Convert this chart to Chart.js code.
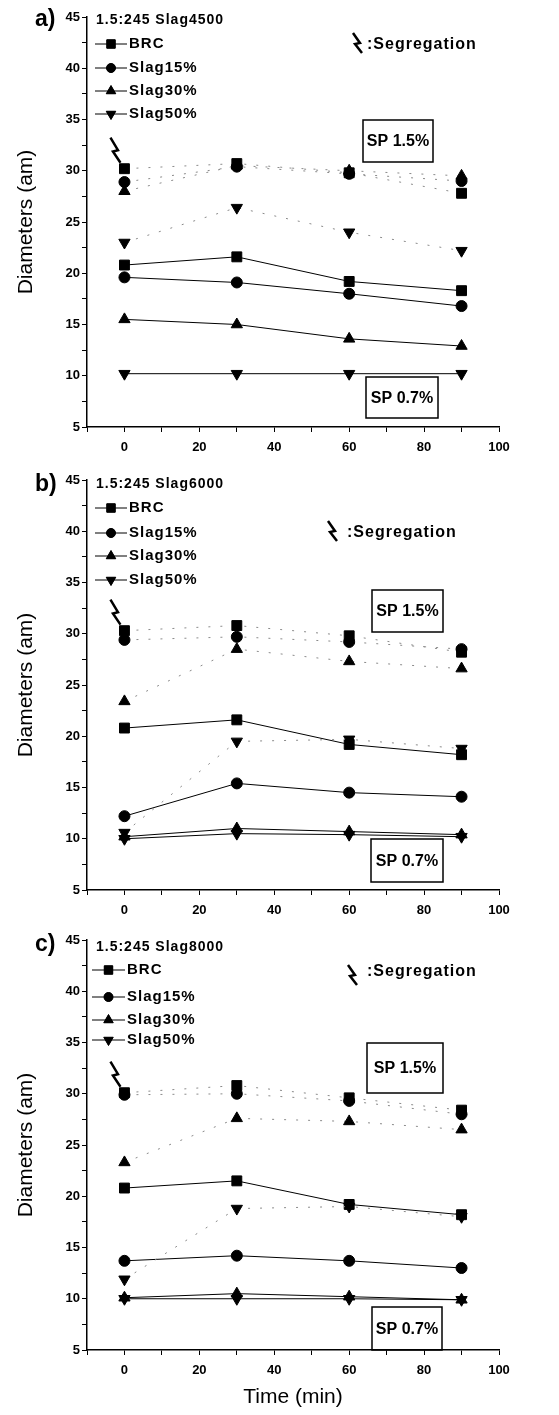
<!DOCTYPE html>
<html>
<head>
<meta charset="utf-8">
<script src="https://cdn.jsdelivr.net/npm/chart.js@4/dist/chart.umd.min.js"></script>
<style>
  body { margin: 0; background: #fff; }
  canvas.panel { position: absolute; left: 0; }
</style>
</head>
<body>
<canvas id="panelA" class="panel" width="559" height="463" style="top:0px"></canvas>
<canvas id="panelB" class="panel" width="559" height="460" style="top:463px"></canvas>
<canvas id="panelC" class="panel" width="559" height="492" style="top:923px"></canvas>
<script>
// temps de mesure (min)
const times = [0, 30, 60, 90];
const seriesNames = ['BRC', 'Slag15%', 'Slag30%', 'Slag50%'];

// a) 1.5:245 Slag4500 -- SP 0.7% (traits pleins)
const a07BRC = [20.8, 21.6, 19.2, 18.3];
const a07S15 = [19.6, 19.1, 18.0, 16.8];
const a07S30 = [15.5, 15.0, 13.6, 12.9];
const a07S50 = [10.2, 10.2, 10.2, 10.2];
// a) SP 1.5% (pointillés)
const a15BRC = [30.2, 30.7, 29.8, 27.8];
const a15S15 = [28.9, 30.4, 29.7, 29.0];
const a15S30 = [28.0, 30.5, 30.0, 29.5];
const a15S50 = [23.0, 26.4, 24.0, 22.2];

// b) 1.5:245 Slag6000
const b07BRC = [20.8, 21.6, 19.2, 18.2];
const b07S15 = [12.2, 15.4, 14.5, 14.1];
const b07S30 = [10.2, 11.0, 10.7, 10.4];
const b07S50 = [10.0, 10.5, 10.4, 10.2];
const b15BRC = [30.3, 30.8, 29.8, 28.2];
const b15S15 = [29.4, 29.7, 29.2, 28.5];
const b15S30 = [23.4, 28.5, 27.3, 26.6];
const b15S50 = [10.6, 19.5, 19.7, 18.8];

// c) 1.5:245 Slag8000
const c07BRC = [20.8, 21.5, 19.2, 18.2];
const c07S15 = [13.7, 14.2, 13.7, 13.0];
const c07S30 = [10.1, 10.5, 10.2, 9.9];
const c07S50 = [10.0, 10.0, 10.0, 9.9];
const c15BRC = [30.1, 30.8, 29.6, 28.4];
const c15S15 = [29.9, 30.0, 29.3, 28.0];
const c15S30 = [23.3, 27.6, 27.3, 26.5];
const c15S50 = [11.9, 18.8, 19.0, 18.0];

const FONT = "'Liberation Sans', Arial, sans-serif";
// style des marqueurs : carré, rond, triangle, triangle inversé
const MARKERS = [
    { style: 'rect', radius: 7, rotation: 0 },
    { style: 'circle', radius: 5.5, rotation: 0 },
    { style: 'triangle', radius: 6.5, rotation: 0 },
    { style: 'triangle', radius: 6.5, rotation: 180 }
];

function makeDatasets(sp07, sp15) {
    const sets = [];
    sp15.forEach((vals, i) => {
        sets.push({
            label: seriesNames[i] + ' SP1.5',
            data: times.map((t, k) => ({ x: t, y: vals[k] })),
            borderColor: '#8a8a8a', borderWidth: 1, borderDash: [2, 10],
            pointStyle: MARKERS[i].style, pointRadius: MARKERS[i].radius,
            pointRotation: MARKERS[i].rotation,
            pointBackgroundColor: '#000', pointBorderColor: '#000', pointBorderWidth: 1
        });
    });
    sp07.forEach((vals, i) => {
        sets.push({
            label: seriesNames[i] + ' SP0.7',
            data: times.map((t, k) => ({ x: t, y: vals[k] })),
            borderColor: '#000', borderWidth: 1,
            pointStyle: MARKERS[i].style, pointRadius: MARKERS[i].radius,
            pointRotation: MARKERS[i].rotation,
            pointBackgroundColor: '#000', pointBorderColor: '#000', pointBorderWidth: 1
        });
    });
    return sets;
}

function drawBolt(ctx, x0, y0, x1, y1) {
    const dx = x1 - x0, dy = y1 - y0;
    ctx.save();
    ctx.strokeStyle = '#000';
    ctx.lineWidth = 2.5;
    ctx.lineJoin = 'miter';
    ctx.beginPath();
    ctx.moveTo(x0, y0);
    ctx.lineTo(x0 + dx * 0.55 + 2, y0 + dy * 0.5);
    ctx.lineTo(x0 + dx * 0.45 - 2, y0 + dy * 0.55);
    ctx.lineTo(x1, y1);
    ctx.stroke();
    ctx.restore();
}

// annotations dessinées par-dessus le graphique
function annotationPlugin(cfg) {
    return {
        id: 'annot',
        afterDraw(chart) {
            const ctx = chart.ctx;
            ctx.save();
            ctx.fillStyle = '#000';
            ctx.textBaseline = 'middle';

            // étiquette du panneau
            ctx.font = 'bold 23px ' + FONT;
            ctx.fillText(cfg.tag, 35, cfg.tagY);

            // légende
            ctx.letterSpacing = '1px';
            ctx.font = 'bold 14px ' + FONT;
            ctx.fillText(cfg.title, 96, cfg.legendY[0]);
            ctx.font = 'bold 15px ' + FONT;
            seriesNames.forEach((name, i) => {
                const y = cfg.legendY[i + 1];
                ctx.strokeStyle = '#000';
                ctx.lineWidth = 1;
                ctx.beginPath();
                ctx.moveTo(cfg.symX[0], y);
                ctx.lineTo(cfg.symX[1], y);
                ctx.stroke();
                const m = MARKERS[i];
                Chart.helpers.drawPoint(ctx, {
                    pointStyle: m.style, radius: m.radius - 1, rotation: m.rotation, borderWidth: 1
                }, (cfg.symX[0] + cfg.symX[1]) / 2, y);
                ctx.fill();
                ctx.fillText(name, cfg.symX[1] + 2, y);
            });

            // ségrégation
            drawBolt(ctx, cfg.seg.bx, cfg.seg.by, cfg.seg.bx + 9, cfg.seg.by + 20);
            ctx.font = 'bold 16px ' + FONT;
            ctx.fillText(cfg.seg.text, cfg.seg.tx, cfg.seg.ty);

            // éclair au point t = 0
            const px = chart.scales.x.getPixelForValue(times[0]);
            const py = chart.scales.y.getPixelForValue(cfg.boltAt);
            drawBolt(ctx, px - 14, py - 31, px - 4, py - 6);

            // encadrés SP
            ctx.letterSpacing = '0px';
            ctx.lineWidth = 1.5;
            ctx.textAlign = 'center';
            cfg.boxes.forEach(b => {
                ctx.strokeRect(b.x, b.y, b.w, b.h);
                ctx.fillText(b.text, b.x + b.w / 2, b.y + b.h / 2 + 1);
            });
            ctx.restore();
        }
    };
}

function makePanel(canvasId, sp07, sp15, cfg) {
    const canvas = document.getElementById(canvasId);
    const H = canvas.height;
    return new Chart(canvas, {
        type: 'line',
        data: { datasets: makeDatasets(sp07, sp15) },
        options: {
            responsive: false,
            animation: false,
            layout: { padding: { top: 17, right: 60, left: 0, bottom: 0 } },
            plugins: { legend: { display: false }, tooltip: { enabled: false } },
            scales: {
                x: {
                    type: 'linear', min: -10, max: 100,
                    afterFit: s => { s.height = H - 427; },
                    ticks: {
                        stepSize: 10, autoSkip: false, maxRotation: 0, padding: 8,
                        callback: v => (v % 20 === 0 ? v : ''),
                        font: { family: FONT, size: 13, weight: 'bold' }, color: '#000'
                    },
                    grid: { drawOnChartArea: false, drawTicks: true, tickLength: 5, color: '#000' },
                    border: { color: '#000', width: 1.5 },
                    title: {
                        display: cfg.showXTitle, text: 'Time (min)', color: '#000',
                        font: { family: FONT, size: 21 }, padding: { top: 0, bottom: 5 }
                    }
                },
                y: {
                    min: 5, max: 45,
                    afterFit: s => { s.width = 87; },
                    ticks: {
                        stepSize: 2.5, autoSkip: false, padding: 2,
                        callback: v => (v % 5 === 0 ? v : ''),
                        font: { family: FONT, size: 13, weight: 'bold' }, color: '#000'
                    },
                    grid: { drawOnChartArea: false, drawTicks: true, tickLength: 5, color: '#000' },
                    border: { color: '#000', width: 1.5 },
                    title: {
                        display: true, text: 'Diameters (am)', color: '#000',
                        font: { family: FONT, size: 21 }, padding: { top: 14, bottom: 0 }
                    }
                }
            }
        },
        plugins: [annotationPlugin(cfg)]
    });
}

window.onload = () => {
    makePanel('panelA', [a07BRC, a07S15, a07S30, a07S50], [a15BRC, a15S15, a15S30, a15S50], {
        tag: 'a)', tagY: 20, title: '1.5:245 Slag4500',
        legendY: [20, 44, 68, 91, 114], symX: [95, 127],
        seg: { bx: 353, by: 33, text: ':Segregation', tx: 367, ty: 45 },
        boltAt: a15BRC[0], showXTitle: false,
        boxes: [
            { x: 363, y: 120, w: 70, h: 42, text: 'SP 1.5%' },
            { x: 366, y: 377, w: 72, h: 41, text: 'SP 0.7%' }
        ]
    });
    makePanel('panelB', [b07BRC, b07S15, b07S30, b07S50], [b15BRC, b15S15, b15S30, b15S50], {
        tag: 'b)', tagY: 22, title: '1.5:245 Slag6000',
        legendY: [21, 45, 70, 93, 117], symX: [95, 127],
        seg: { bx: 328, by: 58, text: ':Segregation', tx: 347, ty: 70 },
        boltAt: b15BRC[0], showXTitle: false,
        boxes: [
            { x: 372, y: 127, w: 71, h: 42, text: 'SP 1.5%' },
            { x: 371, y: 376, w: 72, h: 43, text: 'SP 0.7%' }
        ]
    });
    makePanel('panelC', [c07BRC, c07S15, c07S30, c07S50], [c15BRC, c15S15, c15S30, c15S50], {
        tag: 'c)', tagY: 22, title: '1.5:245 Slag8000',
        legendY: [24, 47, 74, 97, 117], symX: [92, 125],
        seg: { bx: 348, by: 42, text: ':Segregation', tx: 367, ty: 49 },
        boltAt: c15BRC[0], showXTitle: true,
        boxes: [
            { x: 367, y: 120, w: 76, h: 50, text: 'SP 1.5%' },
            { x: 372, y: 384, w: 70, h: 43, text: 'SP 0.7%' }
        ]
    });
};
</script>
</body>
</html>
